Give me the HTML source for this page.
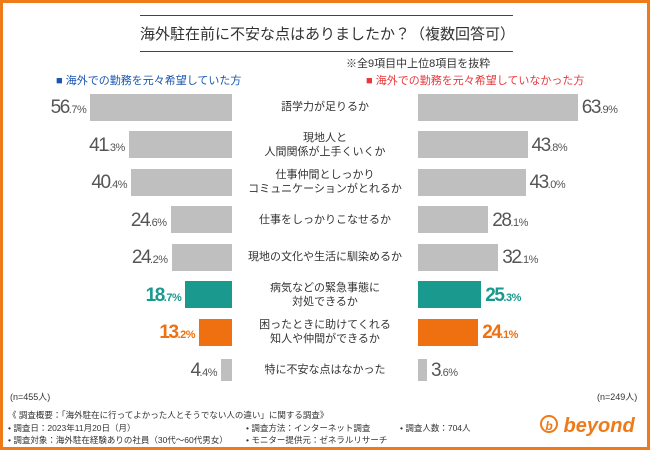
<!DOCTYPE html>
<html><head><meta charset="utf-8"><style>
body{margin:0;width:650px;height:450px;overflow:hidden;background:#fff;font-family:"Liberation Sans","Noto Sans CJK JP",sans-serif;}
#frame{position:absolute;left:0;top:0;width:644px;height:444px;border:3px solid #ee7a1a;}
.t{position:absolute;white-space:nowrap;}
.val{position:absolute;font-size:19px;color:#555;letter-spacing:-1.5px;line-height:20px;}
.val small{font-size:11px;letter-spacing:-0.5px;}
.lbl{position:absolute;left:245px;width:160px;text-align:center;font-size:11px;color:#333;line-height:14px;}
.bar{position:absolute;}
</style></head><body>
<div id="frame"></div>
<div class="t" style="left:140px;top:15px;width:373px;height:1px;background:#444"></div>
<div class="t" style="left:140px;top:23px;width:373px;text-align:center;font-size:15px;color:#333">海外駐在前に不安な点はありましたか？（複数回答可）</div>
<div class="t" style="left:140px;top:51px;width:373px;height:1px;background:#444"></div>
<div class="t" style="left:346px;top:55px;font-size:11px;color:#333">※全9項目中上位8項目を抜粋</div>
<div class="t" style="left:56px;top:72px;font-size:11px;color:#1a56b0">■ 海外での勤務を元々希望していた方</div>
<div class="t" style="left:366px;top:72px;font-size:11px;color:#e8383d">■ 海外での勤務を元々希望していなかった方</div>
<div id="chart"></div>
<div class="t" style="left:10px;top:390px;font-size:9px;color:#333">(n=455人)</div>
<div class="t" style="left:597px;top:390px;font-size:9px;color:#333">(n=249人)</div>
<div class="t" style="left:8px;top:409px;font-size:8.5px;color:#333">《 調査概要：「海外駐在に行ってよかった人とそうでない人の違い」に関する調査》</div>
<div class="t" style="left:8px;top:422px;font-size:8.5px;color:#333">• 調査日：2023年11月20日（月）</div>
<div class="t" style="left:8px;top:434px;font-size:8.5px;color:#333">• 調査対象：海外駐在経験ありの社員（30代〜60代男女）</div>
<div class="t" style="left:246px;top:422px;font-size:8.5px;color:#333">• 調査方法：インターネット調査</div>
<div class="t" style="left:246px;top:434px;font-size:8.5px;color:#333">• モニター提供元：ゼネラルリサーチ</div>
<div class="t" style="left:400px;top:422px;font-size:8.5px;color:#333">• 調査人数：704人</div>
<div class="t" style="left:540px;top:415px;font-size:20px;font-weight:bold;font-style:italic;color:#ee7a1a"><span style="display:inline-block;width:18px;height:18px;border:2px solid #ee7a1a;border-radius:50%;font-size:12px;text-align:center;line-height:18px;vertical-align:2px;box-sizing:border-box">b</span> beyond</div>
<script>
const categories=["語学力が足りるか","現地人と<br>人間関係が上手くいくか","仕事仲間としっかり<br>コミュニケーションがとれるか","仕事をしっかりこなせるか","現地の文化や生活に馴染めるか","病気などの緊急事態に<br>対処できるか","困ったときに助けてくれる<br>知人や仲間ができるか","特に不安な点はなかった"];
const leftValues=[56.7,41.3,40.4,24.6,24.2,18.7,13.2,4.4];
const rightValues=[63.9,43.8,43.0,28.1,32.1,25.3,24.1,3.6];
const rowColors=["#bfbfbf","#bfbfbf","#bfbfbf","#bfbfbf","#bfbfbf","#1a9a8f","#ee7010","#bfbfbf"];
const valColors=["#555","#555","#555","#555","#555","#1a9a8f","#ee7010","#555"];
const chart=document.getElementById('chart');
const scale=v=>v*2.5;
const rowY=i=>107+i*37.5;
const BH=27;
function fmt(v){const s=v.toFixed(1).split('.');return s[0]+'<small>.'+s[1]+'%</small>';}
categories.forEach((c,i)=>{
  const cy=rowY(i);
  const bh=i===7?22:BH;
  const lb=document.createElement('div');lb.className='bar';
  
  
  const lw=scale(leftValues[i]);
  lb.style.cssText=`left:${232-lw}px;top:${cy-bh/2}px;width:${lw}px;height:${bh}px;background:${rowColors[i]}`;
  chart.appendChild(lb);
  const rb=document.createElement('div');rb.className='bar';
  
  
  const rw=scale(rightValues[i]);
  rb.style.cssText=`left:418px;top:${cy-bh/2}px;width:${rw}px;height:${bh}px;background:${rowColors[i]}`;
  chart.appendChild(rb);
  const lv=document.createElement('div');lv.className='val';
  
  
  lv.innerHTML=fmt(leftValues[i]);
  lv.style.cssText=`right:${650-(232-lw)+4}px;top:${cy-9}px;color:${valColors[i]};${i>=5&&i<=6?'font-weight:bold':''}`;
  chart.appendChild(lv);
  const rv=document.createElement('div');rv.className='val';
  
  
  rv.innerHTML=fmt(rightValues[i]);
  rv.style.cssText=`left:${418+rw+4}px;top:${cy-9}px;color:${valColors[i]};${i>=5&&i<=6?'font-weight:bold':''}`;
  chart.appendChild(rv);
  const l=document.createElement('div');l.className='lbl';
  
  
  l.innerHTML=c;
  const lines=c.split('<br>').length;
  l.style.top=(cy-lines*7)+'px';
  chart.appendChild(l);
});
</script>
</body></html>
